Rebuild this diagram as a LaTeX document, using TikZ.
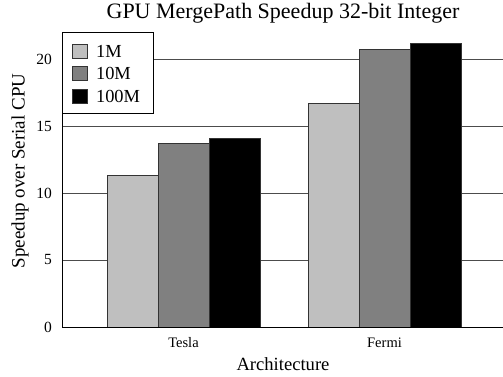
\documentclass[tikz,border=0pt]{standalone}
\usepackage{fontspec}
\setmainfont{Liberation Serif}
\usetikzlibrary{positioning}
\definecolor{c1M}{gray}{0.75}
\definecolor{c10M}{gray}{0.5}
\definecolor{c100M}{gray}{0}

\begin{document}
\begin{tikzpicture}[x=1pt,y=1pt,
    gridline/.style={draw=black!70,line width=0.8pt},
    bar/.style={draw=black!80,line width=0.7pt},
    ticklbl/.style={anchor=east,inner sep=0pt,font=\fontsize{15.5}{16}\selectfont},
    catlbl/.style={font=\fontsize{14.5}{15}\selectfont},
    swatch/.style={draw=black!80,line width=0.7pt,minimum width=15pt,minimum height=14pt,inner sep=0pt},
    legtext/.style={anchor=west,inner sep=0pt,font=\fontsize{18.4}{19}\selectfont}]
  \useasboundingbox (0,0) rectangle (503,377);
  \node[font=\fontsize{22}{24}\selectfont] (title) at (283,364) {GPU MergePath Speedup 32-bit Integer};
  \node[font=\fontsize{19}{20}\selectfont,rotate=90] (ylbl) at (20,206) {Speedup over Serial CPU};
  \node[font=\fontsize{18.6}{19}\selectfont] (xlbl) at (283,13) {Architecture};
  \begin{scope}[shift={(62,50)},y=13.4pt]
    \coordinate (orig) at (0,0);
    \coordinate (ytop) at (0,22.01);
    \coordinate (xend) at (441,0);
    % grid and tick labels
    \foreach \v in {5,10,15,20} {
      \coordinate (g\v) at (0,\v);
      \draw[gridline] (g\v) -- ++(441,0);
    }
    \foreach \v in {0,5,10,15,20}
      \node[ticklbl] (t\v) at (-10,\v) {\v};
    % bars
    \foreach \x/\v/\c in {45/11.3/c1M,96/13.7/c10M,147/14.1/c100M,
                          246/16.7/c1M,297/20.7/c10M,348/21.2/c100M}
      \filldraw[bar,fill=\c] (\x,0) rectangle ++(51,\v);
    \draw[line width=0.8pt] (ytop) -- (orig) -- (xend);
    \node[catlbl] (tesla) at (121.5,-1.15) {Tesla};
    \node[catlbl] (fermi) at (322.5,-1.15) {Fermi};
  \end{scope}
  % legend
  \filldraw[line width=0.8pt,fill=white] (62,345) rectangle (153,264);
  \node[swatch,fill=c1M]   (sw1M)   at (80,326) {};
  \node[swatch,fill=c10M]  (sw10M)  at (80,304) {};
  \node[swatch,fill=c100M] (sw100M) at (80,281) {};
  \node[legtext] (l1M)   [right=8pt of sw1M.east]   {1M};
  \node[legtext] (l10M)  [right=8pt of sw10M.east]  {10M};
  \node[legtext] (l100M) [right=8pt of sw100M.east] {100M};
\end{tikzpicture}
\end{document}
